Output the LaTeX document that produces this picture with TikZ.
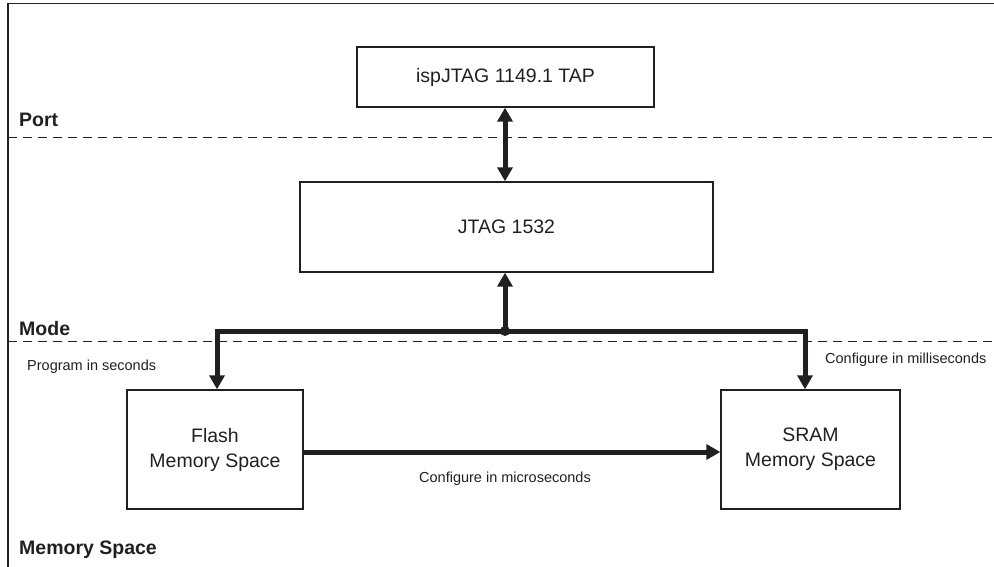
\documentclass[tikz,border=0pt]{standalone}
\usepackage{fontspec}
\setmainfont{Liberation Sans}
\usetikzlibrary{arrows.meta}
\definecolor{ink}{HTML}{231F20}
\tikzset{
  block/.style={draw=ink, line width=1.4pt, minimum width=#1, align=center, inner sep=0pt,
                font=\fontsize{19.5}{25}\selectfont, text=ink},
  bus/.style={draw=ink, line width=5pt},
  tip/.style={-{Triangle[width=15pt,length=14pt]}},
  divider/.style={draw=ink, line width=0.9pt, dash pattern=on 9pt off 6pt},
  zone/.style={font=\fontsize{19.5}{23}\selectfont\bfseries, text=ink, anchor=base west, inner sep=0pt},
  note/.style={font=\fontsize{14.5}{17}\selectfont, text=ink, inner sep=0pt},
}
\begin{document}
\begin{tikzpicture}[x=1pt, y=-1pt]
\useasboundingbox (0,0) rectangle (994,567);

% frame (top and left edges)
\draw[ink, line width=1.8pt] (8,567) -- (8,3.5) -- (994,3.5);

% layer dividers
\draw[divider] (8,137) -- (994,137);
\draw[divider] (8,341) -- (994,341);

% layer names
\node[zone] (port) at (19,127) {Port};
\node[zone] (mode) at (19,335) {Mode};
\node[zone] (mem)  at (19,554) {Memory Space};

% blocks
\node[block=297pt, minimum height=60pt]  (tap)   at (505.5,77)  {ispJTAG 1149.1 TAP};
\node[block=413pt, minimum height=90pt]  (jtag)  at (506.5,227) {JTAG 1532};
\node[block=176pt, minimum height=119pt] (flash) at (215,449.5) {Flash\\Memory Space};
\node[block=179pt, minimum height=119pt] (sram)  at (810.5,449.5) {SRAM\\Memory Space};

% junction of the mode bus
\coordinate (j) at (505,331);

% connectors
\draw[bus, {Triangle[width=15pt,length=14pt]}-{Triangle[width=15pt,length=14pt]}]
  (tap.south -| j) -- (jtag.north -| j);
\draw[bus, tip] (j) -- (jtag.south -| j);
\draw[bus, tip, line join=miter] (j) -| ([xshift=2pt]flash.north);
\draw[bus, tip, line join=miter] (j) -| ([xshift=-5.5pt]sram.north);
\draw[bus, tip] (flash.east |- 0,452) -- (sram.west |- 0,452);
\fill[ink] (j) circle (5pt);

% timing notes
\node[note, anchor=base west] (prog) at (27,370) {Program in seconds};
\node[note, anchor=base west] (msec) at (825,363) {Configure in milliseconds};
\node[note, anchor=base] (usec) at (505,482) {Configure in microseconds};
\end{tikzpicture}
\end{document}
